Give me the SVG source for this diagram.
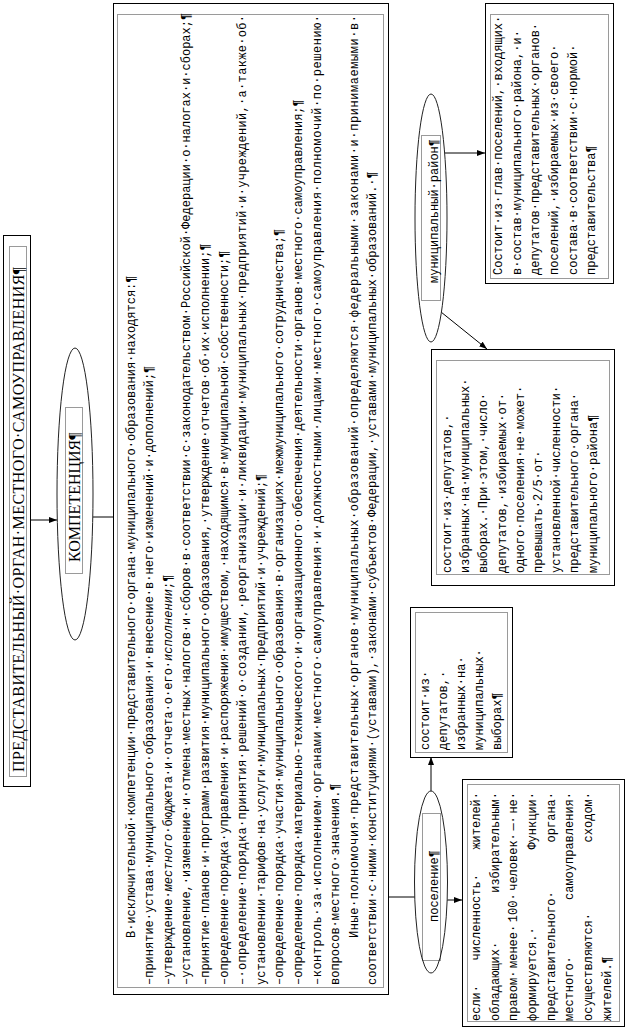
<svg xmlns="http://www.w3.org/2000/svg" width="628" height="1032" viewBox="0 0 628 1032">
<style>
.box{fill:#fff;stroke:#000;stroke-width:1}
.dot{fill:none;stroke:#000;stroke-width:0.8;stroke-dasharray:1 1}
.ell{fill:#fff;stroke:#222;stroke-width:1}
.ln{fill:none;stroke:#000;stroke-width:1}
.m{font-family:"Liberation Mono","Courier New",monospace;font-size:12px;fill:#000}
.s{font-family:"Liberation Serif","Times New Roman",serif;font-size:16px;fill:#000}
.i{font-style:italic}
</style>
<defs>
<marker id="ah" markerWidth="8" markerHeight="6" refX="8" refY="3" orient="auto" markerUnits="userSpaceOnUse">
<path d="M0,0 L8,3 L0,6 Z" fill="#000"/>
</marker>
</defs>
<rect width="628" height="1032" fill="#fff"/>

<g id="connectors">
<path class="ln" d="M31,520 H57" marker-end="url(#ah)"/>
<path class="ln" d="M93,517 H113"/>
<path class="ln" d="M389,897 H415"/>
<path class="ln" d="M431,791 V757" marker-end="url(#ah)"/>
<path class="ln" d="M447,900 H462" marker-end="url(#ah)"/>
<path class="ln" d="M445,153 H485" marker-end="url(#ah)"/>
<path class="ln" d="M441,312 L487,349" marker-end="url(#ah)"/>
</g>

<g id="title">
<rect class="box" x="3.5" y="235.5" width="27" height="551"/>
<rect class="dot" x="9.5" y="246.5" width="17" height="530"/>
<text class="s" transform="translate(23.5 772) rotate(-90)" textLength="505" lengthAdjust="spacing">ПРЕДСТАВИТЕЛЬНЫЙ·ОРГАН·МЕСТНОГО·САМОУПРАВЛЕНИЯ¶</text>
</g>

<g id="kompetencia">
<ellipse class="ell" cx="75" cy="494" rx="18" ry="146"/>
<rect class="dot" x="65.5" y="407.5" width="17" height="166"/>
<text class="s" transform="translate(79.5 562) rotate(-90)">КОМПЕТЕНЦИЯ¶</text>
</g>

<g id="competence-list">
<rect class="box" x="113.5" y="3.5" width="275" height="991"/>
<rect class="dot" x="117.5" y="14.5" width="266" height="973"/>
<text class="m" transform="translate(134.5 938) rotate(-90)">В·исключительной·компетенции·представительного·органа·муниципального·образования·находятся:¶</text>
<text class="m" transform="translate(153.1 985) rotate(-90)">–принятие·устава·муниципального·образования·и·внесение·в·него·изменений·и·дополнений;¶</text>
<text class="m" transform="translate(171.7 985) rotate(-90)">–утверждение·<tspan class="i">местного</tspan>·бюджета·и·отчета·о·его·<tspan class="i">исполнении</tspan>;¶</text>
<text class="m" transform="translate(190.3 985) rotate(-90)">–установление,·изменение·и·отмена·местных·налогов·и·сборов·в·соответствии·с·законодательством·Российской·Федерации·о·налогах·и·сборах;¶</text>
<text class="m" transform="translate(208.9 985) rotate(-90)">–принятие·планов·и·программ·развития·муниципального·образования,·утверждение·отчетов·об·их·исполнении;¶</text>
<text class="m" transform="translate(227.5 985) rotate(-90)">–определение·порядка·управления·и·распоряжения·имуществом,·находящимся·в·муниципальной·собственности;¶</text>
<text class="m" transform="translate(246.1 985) rotate(-90)" textLength="970" lengthAdjust="spacing">–·определение·порядка·принятия·решений·о·создании,·реорганизации·и·ликвидации·муниципальных·предприятий·и·учреждений,·а·также·об·</text>
<text class="m" transform="translate(264.7 985) rotate(-90)">установлении·тарифов·на·услуги·муниципальных·предприятий·и·учреждений;¶</text>
<text class="m" transform="translate(283.3 985) rotate(-90)">–определение·порядка·участия·муниципального·образования·в·организациях·межмуниципального·сотрудничества;¶</text>
<text class="m" transform="translate(301.9 985) rotate(-90)">–определение·порядка·материально-технического·и·организационного·обеспечения·деятельности·органов·местного·самоуправления;¶</text>
<text class="m" transform="translate(320.5 985) rotate(-90)" textLength="970" lengthAdjust="spacing">–контроль·за·исполнением·органами·местного·самоуправления·и·должностными·лицами·местного·самоуправления·полномочий·по·решению·</text>
<text class="m" transform="translate(339.1 985) rotate(-90)">вопросов·местного·значения.¶</text>
<text class="m" transform="translate(357.7 938) rotate(-90)" textLength="923" lengthAdjust="spacing">Иные·полномочия·представительных·органов·муниципальных·образований·определяются·федеральными·законами·и·принимаемыми·в·</text>
<text class="m" transform="translate(376.3 985) rotate(-90)">соответствии·с·ними·конституциями·(уставами),·законами·субъектов·Федерации,·уставами·муниципальных·образований.·¶</text>
</g>

<g id="rayon">
<ellipse class="ell" cx="431" cy="218" rx="16" ry="124"/>
<rect class="dot" x="421.5" y="135.5" width="19" height="165"/>
<text class="m" transform="translate(438 283) rotate(-90)">муниципальный·район¶</text>
</g>

<g id="rayon-glavy">
<rect class="box" x="485.5" y="3.5" width="128" height="280"/>
<rect class="dot" x="490.5" y="14.5" width="118" height="264"/>
<text class="m" transform="translate(502 275) rotate(-90)">Состоит·из·глав·поселений,·входящих·</text>
<text class="m" transform="translate(520.7 275) rotate(-90)">в·состав·муниципального·района,·и·</text>
<text class="m" transform="translate(539.3 275) rotate(-90)">депутатов·представительных·органов·</text>
<text class="m" transform="translate(558 275) rotate(-90)">поселений,·избираемых·из·своего·</text>
<text class="m" transform="translate(576.7 275) rotate(-90)">состава·в·соответствии·с·нормой·</text>
<text class="m" transform="translate(595.3 275) rotate(-90)">представительства¶</text>
</g>

<g id="rayon-deputaty">
<rect class="box" x="431.5" y="349.5" width="183" height="236"/>
<rect class="dot" x="436.5" y="360.5" width="173" height="214"/>
<text class="m" transform="translate(451 573) rotate(-90)">состоит·из·депутатов,·</text>
<text class="m" transform="translate(469.2 573) rotate(-90)">избранных·на·муниципальных·</text>
<text class="m" transform="translate(487.4 573) rotate(-90)">выборах.·При·этом,·число·</text>
<text class="m" transform="translate(505.6 573) rotate(-90)">депутатов,·избираемых·от·</text>
<text class="m" transform="translate(523.8 573) rotate(-90)">одного·поселения·не·может·</text>
<text class="m" transform="translate(542 573) rotate(-90)">превышать·2/5·от·</text>
<text class="m" transform="translate(560.2 573) rotate(-90)">установленной·численности·</text>
<text class="m" transform="translate(578.4 573) rotate(-90)">представительного·органа·</text>
<text class="m" transform="translate(596.6 573) rotate(-90)">муниципального·района¶</text>
</g>

<g id="poselenie">
<ellipse class="ell" cx="431" cy="882" rx="16.5" ry="91"/>
<rect class="dot" x="422.5" y="813.5" width="18" height="147"/>
<text class="m" transform="translate(438 922) rotate(-90)">поселение¶</text>
</g>

<g id="poselenie-deputaty">
<rect class="box" x="410.5" y="607.5" width="102" height="150"/>
<rect class="dot" x="415.5" y="612.5" width="92" height="140"/>
<text class="m" transform="translate(429 750) rotate(-90)">состоит·из·</text>
<text class="m" transform="translate(447 750) rotate(-90)">депутатов,·</text>
<text class="m" transform="translate(465 750) rotate(-90)">избранных·на·</text>
<text class="m" transform="translate(483 750) rotate(-90)">муниципальных·</text>
<text class="m" transform="translate(501 750) rotate(-90)">выборах¶</text>
</g>

<g id="poselenie-skhod">
<rect class="box" x="462.5" y="779.5" width="162" height="247"/>
<rect class="dot" x="467.5" y="784.5" width="152" height="237"/>
<text class="m" transform="translate(480 1021) rotate(-90)"><tspan x="0">если·</tspan><tspan x="60.5">численность·</tspan><tspan x="171.4">жителей·</tspan></text>
<text class="m" transform="translate(498.7 1021) rotate(-90)"><tspan x="0">обладающих·</tspan><tspan x="128.2">избирательным·</tspan></text>
<text class="m" transform="translate(517.3 1021) rotate(-90)"><tspan x="0">правом·</tspan><tspan x="53">менее·</tspan><tspan x="98.8">100·</tspan><tspan x="130.2">человек·</tspan><tspan x="190.4">—·</tspan><tspan x="207.4">не·</tspan></text>
<text class="m" transform="translate(536 1021) rotate(-90)"><tspan x="0">формируется.·</tspan><tspan x="171.4">Функции·</tspan></text>
<text class="m" transform="translate(554.7 1021) rotate(-90)"><tspan x="0">представительного·</tspan><tspan x="178.6">органа·</tspan></text>
<text class="m" transform="translate(573.3 1021) rotate(-90)"><tspan x="0">местного·</tspan><tspan x="121">самоуправления·</tspan></text>
<text class="m" transform="translate(592 1021) rotate(-90)"><tspan x="0">осуществляются·</tspan><tspan x="178.6">сходом·</tspan></text>
<text class="m" transform="translate(610.7 1021) rotate(-90)">жителей.¶</text>
</g>
</svg>
